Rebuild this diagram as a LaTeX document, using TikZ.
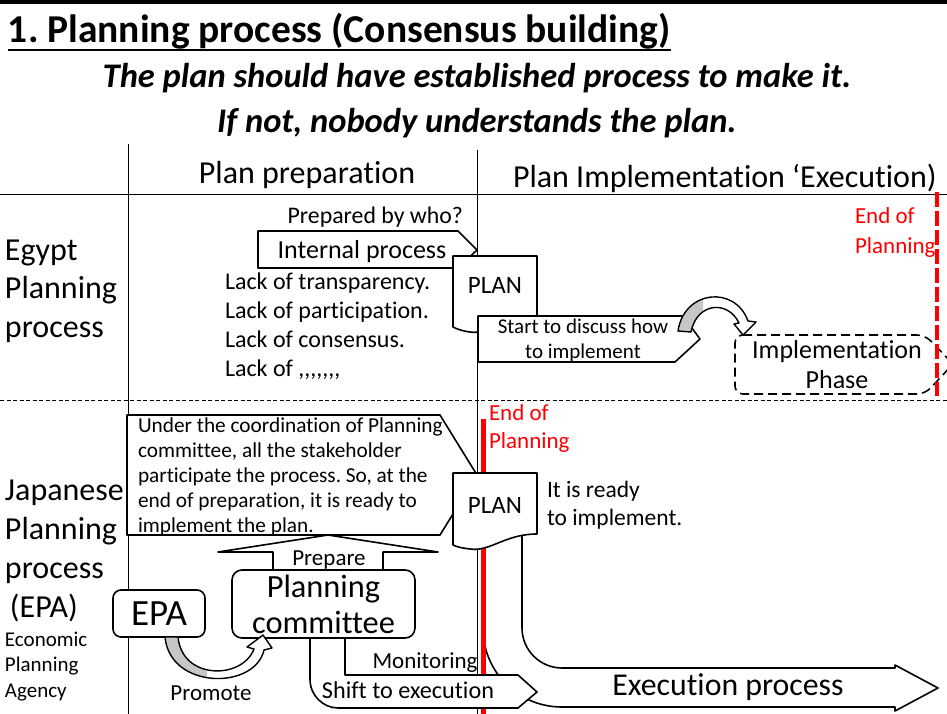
\documentclass[tikz,border=0pt]{standalone}
\usepackage{fontspec}
\setmainfont{Carlito}[Ligatures={NoCommon,NoContextual}]
\frenchspacing
\newcommand\fsz[2]{\fontsize{#1pt}{#2pt}\selectfont}
\newcommand\cm{,\kern0pt}
\newcommand\looppath{(678,331) .. controls (684,290) and (735,285) .. (748,321) -- (756,322) -- (743,335) -- (734,324) -- (739,323) .. controls (728,300) and (697,302) .. (691,332) -- cycle}
\newcommand\prompath{(165,637) .. controls (170,690) and (255,690) .. (264,650) -- (272,648) -- (263,635) -- (247,647) -- (254,649) .. controls (242,680) and (182,680) .. (178,637) -- cycle}
\begin{document}
\begin{tikzpicture}[x=1pt,y=-1pt,line join=round,
  shp/.style={draw=black,line width=1.6pt,fill=white},
  lbl/.style={inner sep=0pt,outer sep=0pt},
  gridline/.style={draw=black,line width=0.8pt},
  endred/.style={lbl,anchor=base west,align=left,text=red}]
\useasboundingbox (0,0) rectangle (947,714);
\clip (0,0) rectangle (947,714);

% frame and grid
\draw[line width=4pt] (0,2) -- (947,2);
\draw[gridline] (128,144) -- (128,714);
\draw[gridline] (477,150) -- (477,714);
\draw[gridline] (0,194) -- (947,194);
\draw[gridline,dash pattern=on 4pt off 2.5pt] (0,400) -- (947,400);

% titles
\node[lbl,anchor=base west,font=\bfseries\fsz{39.5}{44}] (title) at (8,43) {1. Planning process (Consensus building)};
\draw[line width=2.4pt] ([yshift=-7pt]title.base west) -- ([yshift=-7pt]title.base east);
\node[lbl,anchor=base,font=\bfseries\itshape\fsz{34.5}{40}] (sub1) at (477,88) {The plan should have established process to make it.};
\node[lbl,anchor=base,font=\bfseries\itshape\fsz{34.5}{40}] (sub2) at (477,133) {If not, nobody understands the plan.};

% headers
\node[lbl,anchor=base,font=\fsz{32}{36}] (hprep) at (307,183) {Plan preparation};
\node[lbl,anchor=base west,font=\fsz{32}{36}] (himpl) at (513,187) {Plan Implementation ‘Execution)};

% row labels (base = last line)
\node[lbl,anchor=base west,align=left,font=\fsz{32}{38.5}] (egypt) at (5,337) {Egypt\\Planning\\process};
\node[lbl,anchor=base west,align=left,font=\fsz{32}{39}] (japan) at (5,617) {Japanese\\Planning\\process\\\hspace*{5pt}(EPA)};
\node[lbl,anchor=base west,align=left,font=\fsz{21}{25.5}] (epaname) at (5,697) {Economic\\Planning\\Agency};

% ---------- Egypt row ----------
\node[lbl,anchor=base east,font=\fsz{23.8}{28}] (who) at (463,223) {Prepared by who?};
\draw[shp] (258,231) -- (458,231) -- (477,250) -- (458,268) -- (258,268) -- cycle;
\node[lbl,anchor=base,font=\fsz{26}{30}] (internal) at (362,258) {Internal process};
\node[lbl,anchor=base west,align=left,font=\fsz{24}{28.7}] (lack) at (225,376) {Lack of transparency.\\Lack of participation.\\Lack of consensus.\\Lack of \cm\cm\cm\cm\cm\cm,};

\draw[shp] (453,256) -- (537,256) -- (537,317) .. controls (505,317) and (490,335) .. (470,332) .. controls (462,331) and (457,329) .. (453,327) -- cycle;
\node[lbl,anchor=base,font=\fsz{25}{30}] (planA) at (495,293) {PLAN};

\draw[shp] (478,316) -- (683,316) -- (700,339) -- (675,362) -- (478,362) -- cycle;
\node[lbl,anchor=base,align=center,font=\fsz{21}{25}] (start) at (583,358) {Start to discuss how\\to implement};

\fill[white] \looppath;
\begin{scope}
  \clip (660,285) rectangle (703,340);
  \fill[black!22] \looppath;
\end{scope}
\draw[line width=1.4pt] \looppath;

\draw[line width=1.6pt,dash pattern=on 9pt off 5pt,rounded corners=8pt,fill=white] (735,335) -- (925,335) -- (953,364) -- (925,394) -- (735,394) -- cycle;
\node[lbl,anchor=base,align=center,font=\fsz{26}{30}] (implph) at (837,388) {Implementation\\Phase};

\draw[red,line width=4pt,dash pattern=on 15pt off 4pt] (937,192) -- (937,396);
\node[endred,font=\fsz{23}{30}] (endA) at (855,253) {End of\\Planning};

% ---------- Japanese row ----------
\draw[shp] (127,415) -- (440,415) -- (477,475) -- (440,535) -- (127,535) -- cycle;
\node[lbl,anchor=base west,align=left,font=\fsz{21.3}{25}] (coord) at (138,532) {Under the coordination of Planning\\committee, all the stakeholder\\participate the process. So, at the\\end of preparation, it is ready to\\implement the plan.};

\draw[shp] (522,530) -- (522,628) .. controls (522,650) and (540,668) .. (562,668) -- (895,668) -- (895,665) -- (938,688) -- (895,711) -- (895,707) -- (562,707) .. controls (518,707) and (483,672) .. (483,628) -- (483,535) -- cycle;

\draw[red,line width=5pt] (483,419) -- (483,714);
\node[endred,font=\fsz{23}{28}] (endB) at (489,448) {End of\\Planning};

\draw[shp] (453,473) -- (537,473) -- (537,534) .. controls (505,534) and (490,552) .. (470,549) .. controls (462,548) and (457,547) .. (453,545) -- cycle;
\node[lbl,anchor=base,font=\fsz{25}{30}] (planB) at (495,513) {PLAN};
\node[lbl,anchor=base west,align=left,font=\fsz{23.5}{28}] (ready) at (547,525) {It is ready\\to implement.};
\node[lbl,anchor=base,font=\fsz{31.8}{36}] (exec) at (728,695) {Execution process};

\draw[shp] (273,571) -- (273,552) -- (218,552) -- (328,535) -- (438,552) -- (383,552) -- (383,571);
\node[lbl,anchor=base,font=\fsz{23}{28}] (prepare) at (329,565) {Prepare};

\draw[shp] (345,637) -- (345,675) -- (518,675) -- (537,692) -- (518,708) -- (338,708) .. controls (323,708) and (310,695) .. (310,680) -- (310,637);
\node[lbl,anchor=base,font=\fsz{23}{28}] (monitor) at (425,668) {Monitoring};
\node[lbl,anchor=base,font=\fsz{24.2}{28}] (shift) at (408,698) {Shift to execution};

\node[shp,rounded corners=10pt,minimum width=183pt,minimum height=68pt,inner sep=0pt,align=center,font=\fsz{32.4}{36}] (committee) at (323.5,604) {Planning\\committee};
\node[shp,rounded corners=8pt,minimum width=92pt,minimum height=47pt,inner sep=0pt,font=\fsz{37}{40}] (epa) at (159,613.5) {EPA};

\fill[white] \prompath;
\begin{scope}
  \clip (150,636) rectangle (207,700);
  \fill[black!22] \prompath;
\end{scope}
\draw[line width=1.4pt] \prompath;
\node[lbl,anchor=base,font=\fsz{23}{28}] (promote) at (211,700) {Promote};
\end{tikzpicture}
\end{document}
